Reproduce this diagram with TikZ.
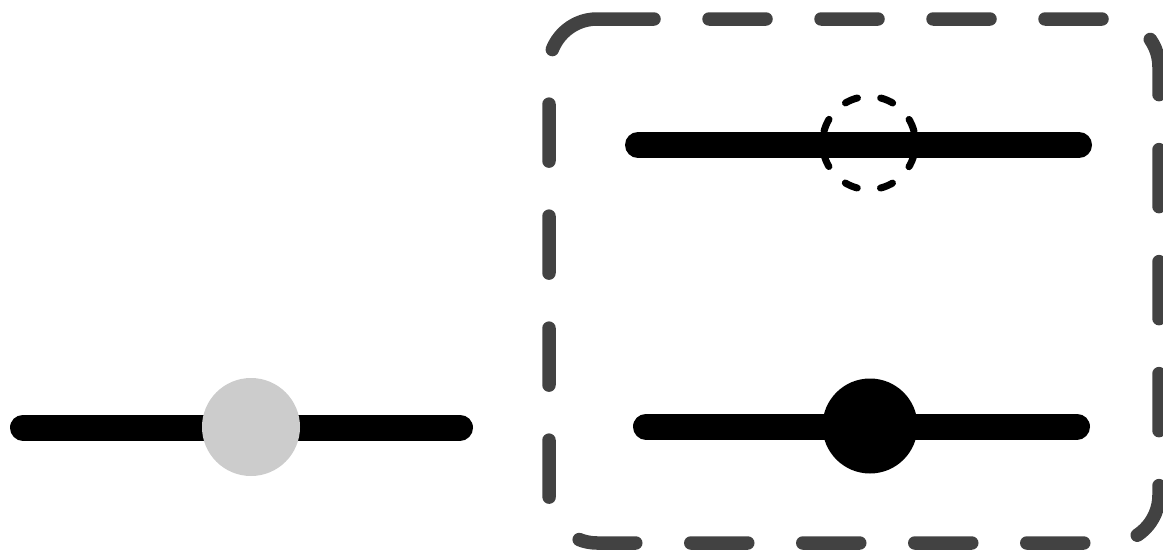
\documentclass[tikz,border=0pt]{standalone}
\definecolor{framegray}{HTML}{424242}
\definecolor{knobgray}{HTML}{CCCCCC}
\begin{document}
\begin{tikzpicture}[x=1pt,y=-1pt,
  bar/.style={draw=black, line width=26pt, line cap=round},
  frame/.style={draw=framegray, line width=13.5pt, line cap=round, dash pattern=on 57pt off 55pt},
  dotring/.style={circle, draw=black, line width=7pt, line cap=round, dash pattern=on 13pt off 23.5pt, dash phase=24.8pt, minimum size=93pt, inner sep=0pt},
  knob/.style={circle, minimum size=95pt, inner sep=0pt}]
\useasboundingbox (0,0) rectangle (1163,557);
% frame
\coordinate (f0) at (597,19);
\coordinate (f1) at (1111,19);
\coordinate (f2) at (1159,495);
\coordinate (f3) at (597,543);
\coordinate (f4) at (549,67);
\draw[frame] (f0) -- (f1) arc[start angle=-90, end angle=0, radius=48]
  -- (f2) arc[start angle=0, end angle=90, radius=48]
  -- (f3) arc[start angle=90, end angle=180, radius=48]
  -- (f4) arc[start angle=180, end angle=270, radius=48] -- cycle;
% left slider
\coordinate (la) at (23,427.5);
\coordinate (lb) at (460,427.5);
\draw[bar] (la) -- (lb);
\node[knob, fill=knobgray, minimum size=98pt] (gk) at (251,427) {};
% top right slider
\coordinate (ta) at (638,145);
\coordinate (tb) at (1079,145);
\draw[bar] (ta) -- (tb);
\node[dotring] (dk) at (869,143) {};
% bottom right slider
\coordinate (ba) at (646,426.5);
\coordinate (bb) at (1077,426.5);
\draw[bar] (ba) -- (bb);
\node[knob, fill=black] (bk) at (870,426) {};
\end{tikzpicture}
\end{document}
